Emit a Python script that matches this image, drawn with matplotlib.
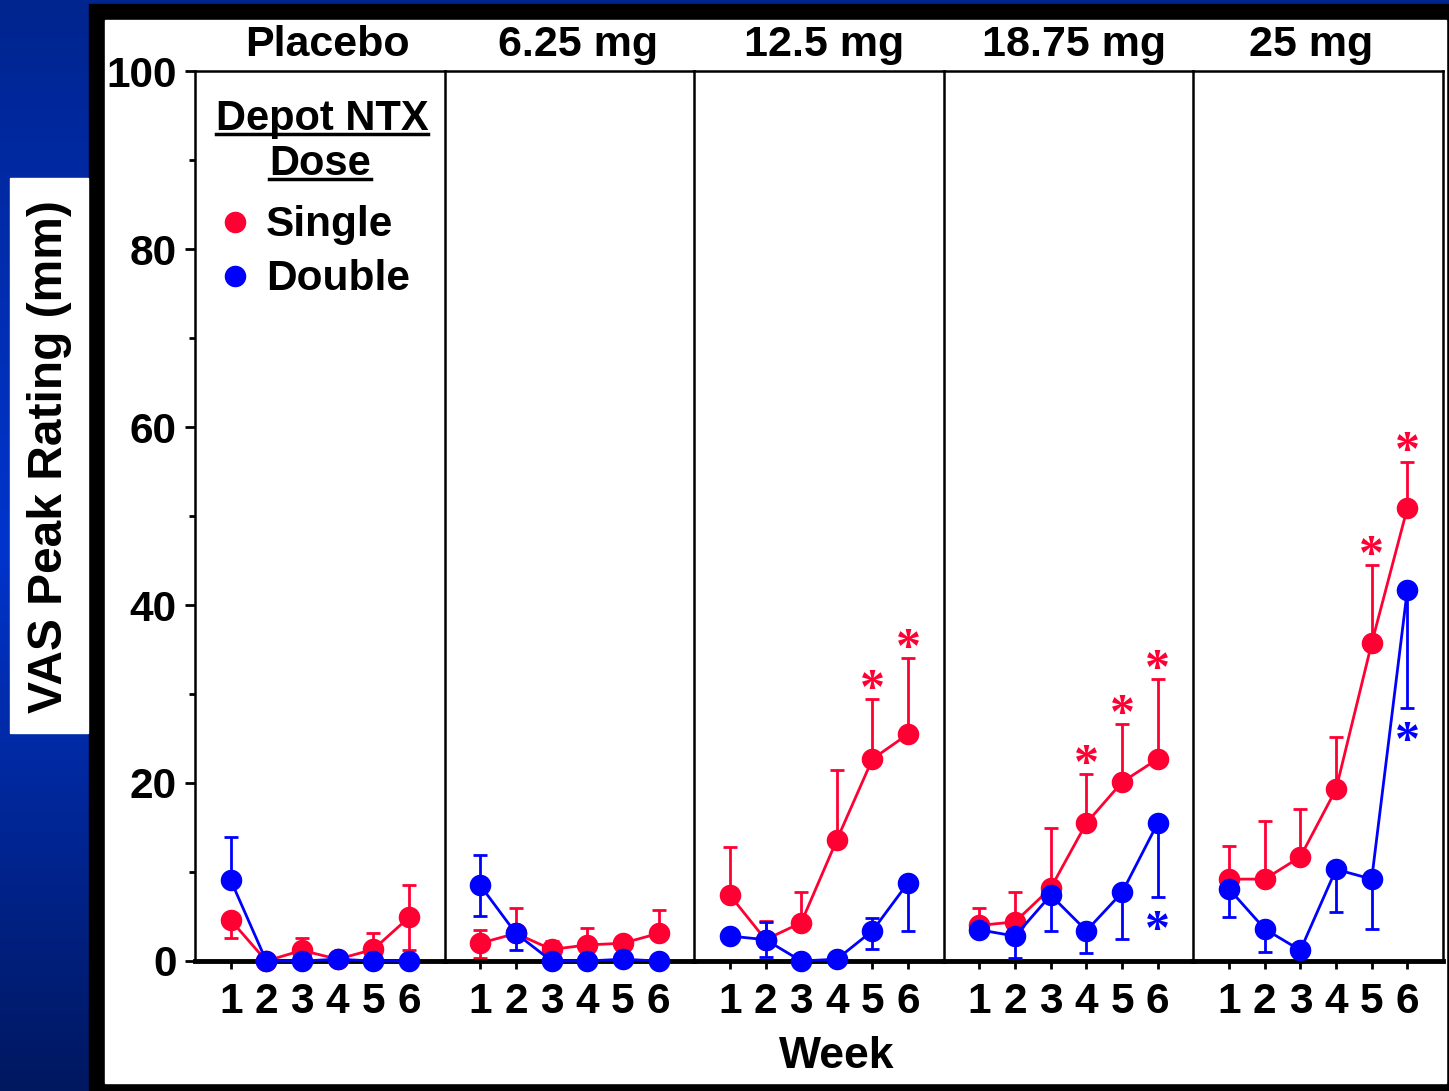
import numpy as np
import matplotlib
matplotlib.use("Agg")
import matplotlib.pyplot as plt
from matplotlib.lines import Line2D
from matplotlib.patches import Rectangle

# ---- data ----
weeks = [1, 2, 3, 4, 5, 6]
doses = ['Placebo', '6.25 mg', '12.5 mg', '18.75 mg', '25 mg']

single_mean = [
    [4.6, 0.0, 1.2, 0.2, 1.3, 4.9],
    [2.0, 3.1, 1.3, 1.8, 2.0, 3.1],
    [7.4, 2.4, 4.3, 13.6, 22.7, 25.5],
    [4.0, 4.4, 8.2, 15.5, 20.1, 22.7],
    [9.2, 9.2, 11.7, 19.3, 35.7, 50.9],
]
single_err_lo = [
    [2.0, 0, 0, 0, 0, 3.7],
    [1.7, 0, 0, 0, 0, 0],
    [0, 0, 0, 0, 0, 0],
    [0, 0, 0, 0, 0, 0],
    [0, 0, 0, 0, 0, 0],
]
single_err_hi = [
    [0, 0, 1.4, 0, 1.9, 3.6],
    [1.5, 2.9, 0.9, 1.9, 0, 2.6],
    [5.4, 2.1, 3.4, 7.9, 6.7, 8.5],
    [2.0, 3.3, 6.8, 5.5, 6.5, 9.0],
    [3.7, 6.5, 5.4, 5.9, 8.8, 5.2],
]

double_mean = [
    [9.1, 0.0, 0.0, 0.2, 0.0, 0.0],
    [8.5, 3.1, 0.0, 0.0, 0.2, 0.0],
    [2.8, 2.4, 0.0, 0.2, 3.4, 8.8],
    [3.5, 2.8, 7.4, 3.4, 7.7, 15.5],
    [8.1, 3.6, 1.2, 10.3, 9.2, 41.7],
]
double_err_lo = [
    [0, 0, 0, 0, 0, 0],
    [3.4, 1.9, 0, 0, 0, 0],
    [0, 2.0, 0, 0, 2.0, 5.4],
    [0, 2.5, 4.0, 2.5, 5.2, 8.3],
    [3.1, 2.6, 0, 4.8, 5.6, 13.3],
]
double_err_hi = [
    [4.8, 0, 0, 0, 0, 0],
    [3.4, 0, 0, 0, 0, 0],
    [0, 2.0, 0, 0, 1.4, 0],
    [0, 0, 0, 0, 0, 0],
    [0, 0, 0, 0, 0, 0],
]

# weeks marked significant
single_sig = [[], [], [5, 6], [4, 5, 6], [5, 6]]
double_sig = [[], [], [], [6], [6]]

RED = '#ff0033'
BLUE = '#0000ff'
FONT = 'Liberation Sans'

plt.rcParams['font.family'] = FONT
plt.rcParams['font.weight'] = 'bold'

W, H = 1449, 1091
fig = plt.figure(figsize=(W / 100, H / 100), dpi=100)

# slide background: blue vertical gradient
bg = fig.add_axes([0, 0, 1, 1], zorder=-10)
t = np.linspace(0, 1, 256)
top = np.array([0, 37, 143]) / 255
mid = np.array([0, 52, 205]) / 255
bot = np.array([0, 24, 96]) / 255
cols = np.where(t[:, None] < 0.5,
                top + (mid - top) * (t[:, None] / 0.5),
                mid + (bot - mid) * ((t[:, None] - 0.5) / 0.5))
bg.imshow(cols[:, None, :], aspect='auto', extent=[0, 1, 0, 1])
bg.set_axis_off()


def fig_rect(x0, y0, x1, y1, color):
    # pixel box (top-left origin) -> figure fraction rectangle
    fig.patches.append(Rectangle((x0 / W, 1 - y1 / H), (x1 - x0) / W, (y1 - y0) / H,
                                 transform=fig.transFigure, color=color, zorder=-5))


fig_rect(89, 4, W, H, 'black')
fig_rect(105, 20, 1446, 1083, 'white')
fig_rect(10, 178, 88, 733, 'white')

fig.text(50 / W, 1 - 457 / H, 'VAS Peak Rating (mm)', rotation=90, ha='center', va='center',
         fontsize=34.5, fontweight='bold')
fig.text(837 / W, 1 - 1056 / H, 'Week', ha='center', va='center', fontsize=32, fontweight='bold')

left_px, right_px, top_px, bot_px = 195, 1443, 71, 961
pw = (right_px - left_px) / 5
title_shift = [8, 9, 5, 5, -7]  # title centres on the slide sit a little off the panel centres

axes = []
for i in range(5):
    ax = fig.add_axes([(left_px + i * pw) / W, 1 - bot_px / H, pw / W, (bot_px - top_px) / H])
    axes.append(ax)
    ax.set_xlim(0, 7)
    ax.set_ylim(0, 100)
    for s in ['left', 'top', 'right']:
        ax.spines[s].set_linewidth(1.8)
    ax.spines['bottom'].set_linewidth(3.5)
    ax.spines['right'].set_visible(i == 4)
    ax.set_xticks(weeks)
    ax.set_xticklabels([str(w) for w in weeks])
    ax.tick_params(axis='x', direction='out', length=6, width=2, pad=9, labelsize=30.5)
    if i == 0:
        ax.set_yticks(range(0, 101, 20))
        ax.set_yticks(range(10, 100, 20), minor=True)
        ax.tick_params(axis='y', which='major', direction='out', length=7.5, width=2,
                       pad=5.5, labelsize=30.5)
        ax.tick_params(axis='y', which='minor', direction='out', length=4, width=2)
    else:
        ax.set_yticks([])
    ttl = ax.set_title(doses[i], fontsize=31, fontweight='bold', pad=11)
    ttl.set_x(0.5 + title_shift[i] / pw)

    ax.errorbar(weeks, single_mean[i], yerr=[single_err_lo[i], single_err_hi[i]], fmt='none',
                ecolor=RED, elinewidth=2, capsize=5, capthick=2, clip_on=False, zorder=2)
    ax.plot(weeks, single_mean[i], '-o', color=RED, lw=2, ms=14.5, clip_on=False, zorder=3)
    ax.errorbar(weeks, double_mean[i], yerr=[double_err_lo[i], double_err_hi[i]], fmt='none',
                ecolor=BLUE, elinewidth=2, capsize=5, capthick=2, clip_on=False, zorder=4)
    ax.plot(weeks, double_mean[i], '-o', color=BLUE, lw=2, ms=14.5, clip_on=False, zorder=5)

    for w in single_sig[i]:
        k = weeks.index(w)
        ax.annotate('*', xy=(w, single_mean[i][k] + single_err_hi[i][k]), xytext=(0, 6),
                    textcoords='offset points', ha='center', va='center', color=RED,
                    fontsize=36, family='Liberation Serif', fontweight='bold')
    for w in double_sig[i]:
        k = weeks.index(w)
        ax.annotate('*', xy=(w, double_mean[i][k] - double_err_lo[i][k]), xytext=(0, -25),
                    textcoords='offset points', ha='center', va='center', color=BLUE,
                    fontsize=36, family='Liberation Serif', fontweight='bold')

# legend in first panel
ax0 = axes[0]
t1 = ax0.text(0.509, 0.934, 'Depot NTX', transform=ax0.transAxes, ha='center', va='baseline',
              fontsize=30, fontweight='bold')
t2 = ax0.text(0.501, 0.883, 'Dose', transform=ax0.transAxes, ha='center', va='baseline',
              fontsize=30, fontweight='bold')
handles = [Line2D([], [], marker='o', ls='none', color=RED, ms=14.5),
           Line2D([], [], marker='o', ls='none', color=BLUE, ms=14.5)]
ax0.legend(handles, ['Single', 'Double'], loc='upper left', bbox_to_anchor=(0.076, 0.849),
           frameon=False, borderaxespad=0, borderpad=0, handlelength=1.0, handletextpad=0.22,
           labelspacing=0.33, prop={'family': FONT, 'weight': 'bold', 'size': 30.5})

# underline the legend heading
fig.canvas.draw()
r = fig.canvas.get_renderer()
for tx in (t1, t2):
    bb = tx.get_window_extent(r)
    yb = ax0.transAxes.transform((0, tx.get_position()[1]))[1] - 4
    fig.lines.append(Line2D([bb.x0 / W, bb.x1 / W], [yb / H, yb / H], transform=fig.transFigure,
                            color='black', lw=2.5))

fig.savefig('out.png', dpi=100)
